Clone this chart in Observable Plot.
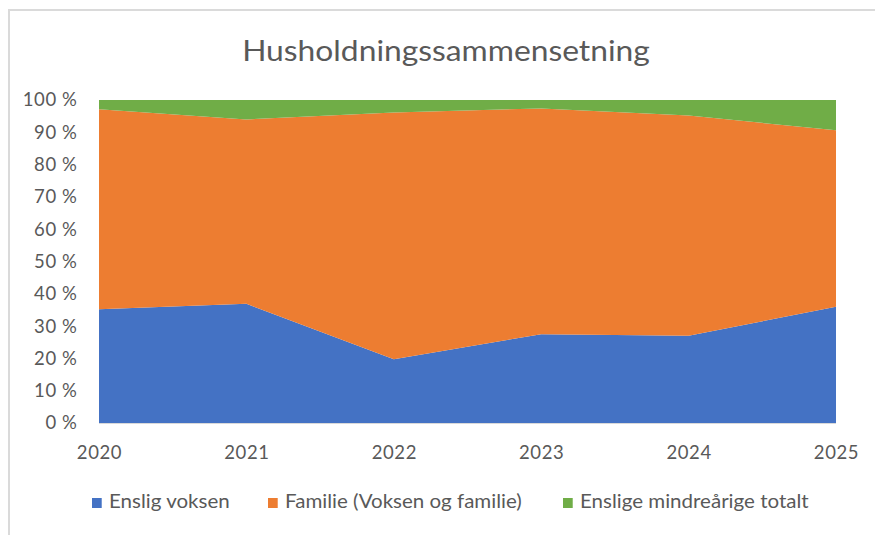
<!DOCTYPE html>
<html><head><meta charset="utf-8">
<script src="https://cdn.jsdelivr.net/npm/d3@7"></script>
<script src="https://cdn.jsdelivr.net/npm/@observablehq/plot@0.6"></script>
<style>
body{margin:0;background:#fff;font-family:Lato,"Open Sans",sans-serif;}
#wrap{position:relative;width:875px;height:535px;overflow:hidden;}
#frame{position:absolute;left:8px;top:9px;width:900px;height:600px;border:2px solid #dadada;box-sizing:border-box;}
#title{position:absolute;left:9px;top:30px;width:875px;text-align:center;font-size:29px;color:#595959;line-height:40px;}
#title span{display:inline-block;transform:scaleX(1.096);}
#chart{position:absolute;left:0;top:85px;}
#legend{position:absolute;left:0;top:489px;width:875px;height:24px;font-size:19px;color:#595959;}
.li{position:absolute;top:0;line-height:24px;white-space:nowrap;transform:scaleX(1.08);transform-origin:0 50%;}
.sw{display:inline-block;width:9.3px;height:10px;margin-right:6.5px;vertical-align:0px;}
</style></head>
<body><div id="wrap"><div id="frame"></div><div id="title"><span></span></div><div id="chart"></div><div id="legend"></div></div>
<script>
const years = [2020, 2021, 2022, 2023, 2024, 2025];
const seriesNames = ["Enslig voksen", "Familie (Voksen og familie)", "Enslige mindreårige totalt"];
const ensligVoksen = [35.2, 36.9, 19.7, 27.5, 27.0, 36.0];
const familie = [61.9, 57.1, 76.4, 69.9, 68.2, 54.6];
const enslMindreaarige = [2.9, 6.0, 3.9, 2.6, 4.8, 9.4];
const colors = ["#4472C4", "#ED7D31", "#70AD47"];
const yTicks = [0, 10, 20, 30, 40, 50, 60, 70, 80, 90, 100];
const title = "Husholdningssammensetning";

const seriesValues = [ensligVoksen, familie, enslMindreaarige];
const data = [];
seriesNames.forEach((s, i) => years.forEach((y, j) => data.push({year: y, series: s, value: seriesValues[i][j]})));

document.querySelector("#title span").textContent = title;

const chart = Plot.plot({
  width: 875,
  height: 385,
  marginLeft: 99,
  marginRight: 39,
  marginTop: 15,
  marginBottom: 47,
  style: {fontFamily: "Lato, 'Open Sans', sans-serif", fontSize: "18.5px", letterSpacing: "0.6px", color: "#595959", background: "transparent"},
  x: {domain: [2020, 2025], ticks: years, tickFormat: d => String(d), tickSize: 0, tickPadding: 22, label: null},
  y: {domain: [0, 100], ticks: yTicks, tickFormat: d => d + " %", tickSize: 0, tickPadding: 22, label: null},
  color: {domain: seriesNames, range: colors},
  marks: [
    Plot.areaY(data, {x: "year", y: "value", fill: "series", z: "series", order: seriesNames}),
    Plot.ruleY([0], {stroke: "#d9d9d9"})
  ]
});
document.getElementById("chart").appendChild(chart);

const legendX = [92, 268, 563];
const leg = document.getElementById("legend");
seriesNames.forEach((s, i) => {
  const d = document.createElement("div");
  d.className = "li";
  d.style.left = legendX[i] + "px";
  d.innerHTML = `<span class="sw" style="background:${colors[i]}"></span>`;
  d.appendChild(document.createTextNode(s));
  leg.appendChild(d);
});
</script></body></html>
